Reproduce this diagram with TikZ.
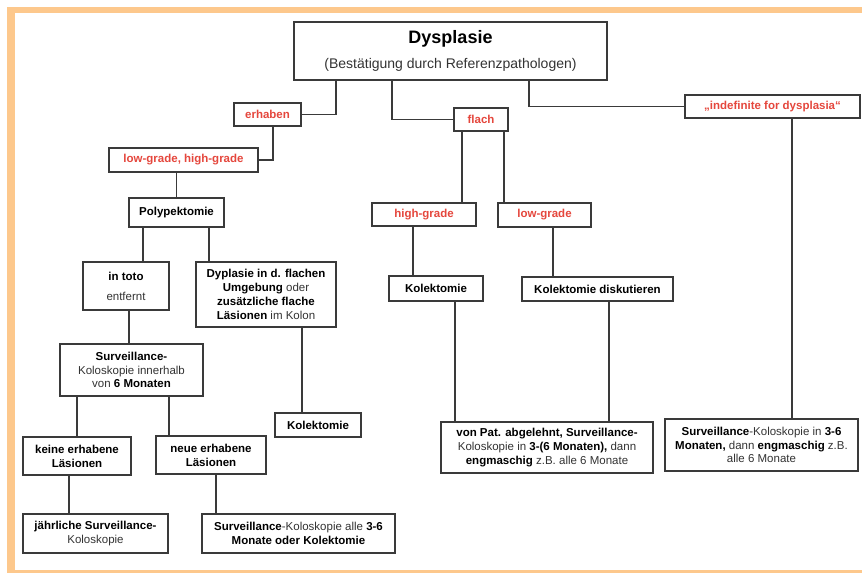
\documentclass[tikz,border=0pt]{standalone}
\usepackage{fontspec}
\setmainfont{Liberation Sans}
\definecolor{frameor}{HTML}{FDC88C}
\definecolor{redt}{HTML}{E5473D}
\definecolor{linec}{HTML}{3A3A3A}
\begin{document}
\begin{tikzpicture}[x=1pt,y=-1pt,
  sz/.style 2 args={minimum width=#1pt,minimum height=#2pt},
  box/.style={draw=linec,line width=1.2pt,fill=white,inner sep=0pt,align=center,
    font=\fontsize{11.5}{13.8}\selectfont,text=black!80},
  rbox/.style={box,font=\fontsize{11.5}{13.8}\selectfont\bfseries,text=redt},
  bbox/.style={box,font=\fontsize{11.5}{13.8}\selectfont\bfseries,text=black},
  conn/.style={draw=linec,line width=1.2pt}]
\useasboundingbox (0,0) rectangle (862,573);
% frame
\fill[frameor] (7,7) rectangle (862,573);
\fill[white] (15,13) rectangle (862,570);
% nodes
\node[box,sz={313}{58}] (dys) at (450.5,51)
  {{\fontsize{18}{20}\selectfont\bfseries\color{black} Dysplasie}\\[10pt]{\fontsize{14}{16}\selectfont (Bestätigung durch Referenzpathologen)}};
\node[rbox,sz={67}{23}] (erh) at (267.5,114.5) {erhaben};
\node[rbox,sz={54}{23}] (flach) at (481,119.5) {flach};
\node[rbox,sz={175}{23}] (indef) at (772.5,106.5) {„indefinite for dysplasia“};
\node[rbox,sz={149}{24}] (lghg) at (183.5,160) {low-grade, high-grade};
\node[bbox,sz={95}{29}] (poly) at (176.5,212.5) {Polypektomie};
\node[box,sz={86}{48}] (intoto) at (126,286) {\textbf{\color{black}in toto}\\[6pt]entfernt};
\node[box,sz={140}{65}] (dypl) at (266,294.5)
  {\textbf{\color{black}Dyplasie in d. flachen}\\\textbf{\color{black}Umgebung} oder\\\textbf{\color{black}zusätzliche flache}\\\textbf{\color{black}Läsionen} im Kolon};
\node[box,sz={143}{52}] (surv6) at (131.5,370)
  {\textbf{\color{black}Surveillance-}\\Koloskopie innerhalb\\von \textbf{\color{black}6 Monaten}};
\node[bbox,sz={108}{38}] (keine) at (77,456) {keine erhabene\\Läsionen};
\node[bbox,sz={110}{38}] (neue) at (211,455) {neue erhabene\\Läsionen};
\node[bbox,sz={86}{24}] (kolL) at (318,425) {Kolektomie};
\node[box,sz={145}{39}] (jaehr) at (95.5,533.5) {\textbf{\color{black}jährliche Surveillance-}\\Koloskopie};
\node[box,sz={193}{39}] (surv36) at (298.5,533.5)
  {\textbf{\color{black}Surveillance}-Koloskopie alle \textbf{\color{black}3-6}\\\textbf{\color{black}Monate oder Kolektomie}};
\node[rbox,sz={104}{23}] (hg) at (424,214.5) {high-grade};
\node[rbox,sz={93}{24}] (lg) at (544.5,215) {low-grade};
\node[bbox,sz={94}{25}] (kolM) at (436,288.5) {Kolektomie};
\node[bbox,sz={151}{24}] (kold) at (597.5,289) {Kolektomie diskutieren};
\node[box,sz={212}{51}] (vonpat) at (547,447.5)
  {\textbf{\color{black}von Pat. abgelehnt, Surveillance-}\\Koloskopie in \textbf{\color{black}3-(6 Monaten),} dann\\\textbf{\color{black}engmaschig} z.B. alle 6 Monate};
\node[box,sz={193}{52}] (survR) at (761.5,445)
  {\textbf{\color{black}Surveillance}-Koloskopie in \textbf{\color{black}3-6}\\\textbf{\color{black}Monaten,} dann \textbf{\color{black}engmaschig} z.B.\\alle 6 Monate};
% connectors
\draw[conn] (336,0 |- dys.south) |- (erh.east);
\draw[conn] (392,0 |- dys.south) |- (flach.west);
\draw[conn] (529,0 |- dys.south) |- (indef.west);
\draw[conn] (273,0 |- erh.south) |- (lghg.east);
\draw[conn] (lghg.south -| poly.north) -- (poly.north);
\draw[conn] (143,0 |- poly.south) -- (143,0 |- intoto.north);
\draw[conn] (209,0 |- poly.south) -- (209,0 |- dypl.north);
\draw[conn] (129,0 |- intoto.south) -- (129,0 |- surv6.north);
\draw[conn] (302,0 |- dypl.south) -- (302,0 |- kolL.north);
\draw[conn] (77,0 |- surv6.south) -- (77,0 |- keine.north);
\draw[conn] (169,0 |- surv6.south) -- (169,0 |- neue.north);
\draw[conn] (69,0 |- keine.south) -- (69,0 |- jaehr.north);
\draw[conn] (216,0 |- neue.south) -- (216,0 |- surv36.north);
\draw[conn] (462,0 |- flach.south) -- (462,0 |- hg.north);
\draw[conn] (504,0 |- flach.south) -- (504,0 |- lg.north);
\draw[conn] (413,0 |- hg.south) -- (413,0 |- kolM.north);
\draw[conn] (553,0 |- lg.south) -- (553,0 |- kold.north);
\draw[conn] (455,0 |- kolM.south) -- (455,0 |- vonpat.north);
\draw[conn] (609,0 |- kold.south) -- (609,0 |- vonpat.north);
\draw[conn] (792,0 |- indef.south) -- (792,0 |- survR.north);
\end{tikzpicture}
\end{document}
